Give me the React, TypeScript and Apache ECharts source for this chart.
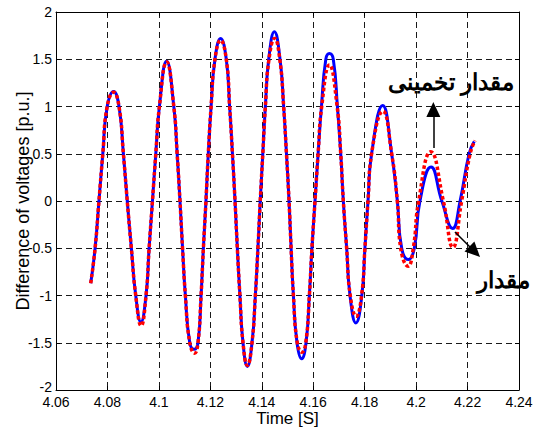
import React, { useEffect, useRef } from "react";
import * as echarts from "echarts";

// Actual (blue, solid) curve: time [s] and value [p.u.]
const timeActual = [
  4.0735, 4.0752, 4.0767, 4.0782, 4.0799, 4.0824, 4.0845, 4.0862, 4.0877, 4.0893, 4.091, 4.093,
  4.095, 4.0962, 4.0975, 4.0988, 4.1002, 4.103, 4.1058, 4.1071, 4.1082, 4.1092, 4.1103, 4.112,
  4.1137, 4.1152, 4.1164, 4.1173, 4.1183, 4.1192, 4.1203, 4.1218, 4.124, 4.1262, 4.1275, 4.1286,
  4.1296, 4.1305, 4.1315, 4.1327, 4.1344, 4.1362, 4.1375, 4.1385, 4.1394, 4.1404, 4.1414, 4.1427,
  4.1449, 4.1471, 4.1485, 4.1496, 4.1506, 4.1514, 4.1523, 4.1537, 4.1555, 4.1572, 4.1585, 4.1595,
  4.1607, 4.1619, 4.1632, 4.1649, 4.1663, 4.1678, 4.1694, 4.1707, 4.1717, 4.173, 4.1743, 4.1766,
  4.1789, 4.1801, 4.1813, 4.1827, 4.187, 4.1905, 4.1927, 4.1944, 4.197, 4.1993, 4.2015, 4.2058,
  4.21, 4.2142, 4.2171, 4.2206, 4.2226,
];
const valueActual = [
  -0.87, -0.5, 0, 0.5, 1.0, 1.16, 1.0, 0.5, 0, -0.5, -1.0, -1.28,
  -1.0, -0.5, 0, 0.5, 1.0, 1.48, 1.0, 0.5, 0, -0.5, -1.0, -1.5,
  -1.57, -1.5, -1.0, -0.5, 0, 0.5, 1.0, 1.5, 1.72, 1.5, 1.0, 0.5,
  0, -0.5, -1.0, -1.5, -1.75, -1.5, -1.0, -0.5, 0, 0.5, 1.0, 1.5,
  1.79, 1.5, 1.0, 0.5, 0, -0.5, -1.0, -1.5, -1.67, -1.5, -1.0, -0.5,
  0, 0.5, 1.0, 1.5, 1.56, 1.5, 1.0, 0.5, 0, -0.5, -1.0, -1.29,
  -1.0, -0.5, 0, 0.5, 1.01, 0.5, 0, -0.5, -0.62, -0.5, 0, 0.36,
  0, -0.29, 0, 0.5, 0.63,
];

// Estimated (red, dotted) curve
const timeEstimated = [
  4.0735, 4.0752, 4.0767, 4.0782, 4.0799, 4.0824, 4.0845, 4.0862, 4.0877, 4.0893, 4.091, 4.0931,
  4.095, 4.0962, 4.0975, 4.0988, 4.1002, 4.103, 4.1058, 4.1071, 4.1082, 4.1092, 4.1103, 4.112,
  4.1139, 4.1152, 4.1164, 4.1173, 4.1183, 4.1192, 4.1203, 4.1218, 4.124, 4.1262, 4.1275, 4.1286,
  4.1296, 4.1305, 4.1315, 4.1327, 4.1344, 4.1362, 4.1375, 4.1385, 4.1394, 4.1404, 4.1414, 4.1428,
  4.145, 4.147, 4.1485, 4.1496, 4.1506, 4.1514, 4.1523, 4.1538, 4.1556, 4.1571, 4.1585, 4.1595,
  4.1607, 4.1619, 4.1633, 4.1663, 4.1693, 4.1707, 4.1717, 4.173, 4.1744, 4.1767,
  4.1788, 4.1801, 4.1813, 4.1827, 4.1871, 4.1905, 4.1927, 4.194, 4.1969, 4.1989, 4.201, 4.2057,
  4.2106, 4.2143, 4.2177, 4.221, 4.2229,
];
const valueEstimated = [
  -0.87, -0.5, 0, 0.5, 1.0, 1.15, 1.0, 0.5, 0, -0.5, -1.0, -1.32,
  -1.0, -0.5, 0, 0.5, 1.0, 1.47, 1.0, 0.5, 0, -0.5, -1.0, -1.5,
  -1.61, -1.5, -1.0, -0.5, 0, 0.5, 1.0, 1.5, 1.7, 1.5, 1.0, 0.5,
  0, -0.5, -1.0, -1.5, -1.74, -1.5, -1.0, -0.5, 0, 0.5, 1.0, 1.5,
  1.72, 1.5, 1.0, 0.5, 0, -0.5, -1.0, -1.5, -1.6, -1.5, -1.0, -0.5,
  0, 0.5, 1.0, 1.44, 1.0, 0.5, 0, -0.5, -1.0, -1.22,
  -1.0, -0.5, 0, 0.5, 0.95, 0.5, 0, -0.5, -0.69, -0.5, 0, 0.52,
  0, -0.49, 0, 0.5, 0.64,
];

// Axis settings
const xTicks = { min: 4.06, max: 4.24, step: 0.02 };
const yTicks = { min: -2, max: 2, step: 0.5 };

// Annotation arrows (data coordinates: [start], [head])
const arrowEstimated = [[4.2067, 0.561], [4.2067, 0.968]];
const arrowActual = [[4.2151, -0.328], [4.2228, -0.537]];
const labelEstimated = "مقدار تخمینی";
const labelActual = "مقدار";

const FONT = 'Arial, "Liberation Sans", sans-serif';

export default function App() {
  const ref = useRef<HTMLDivElement>(null);
  useEffect(() => {
    document.body.style.margin = "0";
    const chart = echarts.init(ref.current!, null, { renderer: "svg" });
    const pairs = (t: number[], v: number[]) => t.map((x, i) => [x, v[i]]);
    const arrowStyle = { color: "#000", width: 1.5, type: "solid" as const };
    const boxLine = { show: true, onZero: false, lineStyle: { color: "#000", width: 1 } };
    const tick = { show: true, inside: true, length: 4, lineStyle: { color: "#000" } };
    const grid = { show: true, lineStyle: { color: "#1a1a1a", width: 1, type: [6, 4] } };
    const labelFont = { fontSize: 14, color: "#000", fontFamily: FONT, lineHeight: 11 };
    chart.setOption({
      animation: false,
      backgroundColor: "#fff",
      grid: { left: 56, right: 20, top: 12, bottom: 38, outerBoundsMode: "none", containLabel: false },
      xAxis: [
        {
          type: "value",
          min: xTicks.min,
          max: xTicks.max,
          interval: xTicks.step,
          name: "Time [S]",
          nameLocation: "middle",
          nameGap: 20,
          nameMoveOverlap: false,
          nameTextStyle: { fontSize: 17, color: "#000", fontFamily: FONT, lineHeight: 17 },
          axisLine: boxLine,
          axisTick: tick,
          axisLabel: {
            ...labelFont,
            margin: 6,
            formatter: (v: number) => String(Math.round(v * 100) / 100),
          },
          splitLine: grid,
        },
        {
          type: "value",
          position: "top",
          min: xTicks.min,
          max: xTicks.max,
          interval: xTicks.step,
          axisLine: boxLine,
          axisTick: tick,
          axisLabel: { show: false },
          splitLine: { show: false },
        },
      ],
      yAxis: [
        {
          type: "value",
          min: yTicks.min,
          max: yTicks.max,
          interval: yTicks.step,
          name: "Difference of voltages [p.u.]",
          nameLocation: "middle",
          nameGap: 24,
          nameMoveOverlap: false,
          nameTextStyle: { fontSize: 18, color: "#000", fontFamily: FONT, lineHeight: 18 },
          axisLine: boxLine,
          axisTick: tick,
          axisLabel: {
            ...labelFont,
            margin: 4,
            formatter: (v: number) => (v === yTicks.min ? `{lift|${v}}` : String(v)),
            rich: { lift: { ...labelFont, padding: [0, 0, 6, 0] } },
          },
          splitLine: grid,
        },
        {
          type: "value",
          position: "right",
          min: yTicks.min,
          max: yTicks.max,
          interval: yTicks.step,
          axisLine: boxLine,
          axisTick: tick,
          axisLabel: { show: false },
          splitLine: { show: false },
        },
      ],
      series: [
        {
          name: "actual",
          type: "line",
          data: pairs(timeActual, valueActual),
          smooth: 0.5,
          symbol: "none",
          lineStyle: { color: "#0000ff", width: 3 },
          z: 2,
        },
        {
          name: "estimated",
          type: "line",
          data: pairs(timeEstimated, valueEstimated),
          smooth: 0.5,
          symbol: "none",
          lineStyle: { color: "#ff0000", width: 3.5, type: [3.5, 2.5], cap: "butt" },
          z: 3,
          markLine: {
            silent: true,
            symbol: ["none", "triangle"],
            symbolSize: [14, 15],
            label: { show: false },
            lineStyle: arrowStyle,
            emphasis: { disabled: true },
            data: [
              [
                { coord: arrowEstimated[0], lineStyle: arrowStyle },
                { coord: arrowEstimated[1] },
              ],
              [
                { coord: arrowActual[0], lineStyle: arrowStyle },
                { coord: arrowActual[1] },
              ],
            ],
          },
        },
      ],
      graphic: [
        {
          type: "text",
          x: 451,
          y: 82,
          z: 10,
          style: {
            text: labelEstimated,
            fontSize: 23,
            fontWeight: "bold",
            fontFamily: "sans-serif",
            fill: "#000",
            align: "center",
            verticalAlign: "middle",
          },
        },
        {
          type: "text",
          x: 503,
          y: 280,
          z: 10,
          style: {
            text: labelActual,
            fontSize: 23,
            fontWeight: "bold",
            fontFamily: "sans-serif",
            fill: "#000",
            align: "center",
            verticalAlign: "middle",
          },
        },
      ],
    });
    return () => chart.dispose();
  }, []);
  return (
    <div
      ref={ref}
      style={{ position: "absolute", left: 0, top: 0, width: 539, height: 428 }}
    />
  );
}
